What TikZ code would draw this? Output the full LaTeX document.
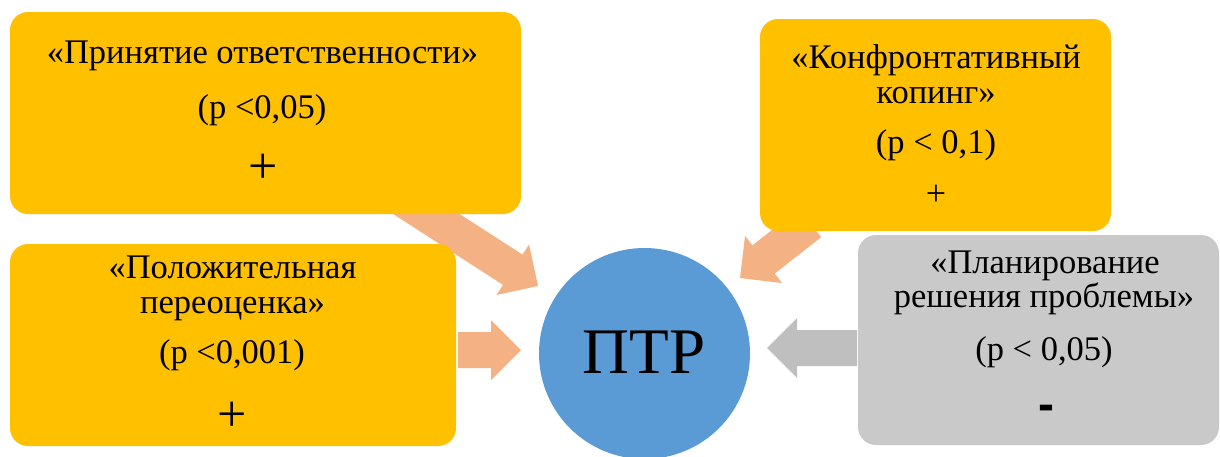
\documentclass[tikz,border=0pt]{standalone}
\usepackage{fontspec}
\setmainfont{Liberation Serif}
\newfontfamily\dashfont{Liberation Sans}
\usetikzlibrary{calc}
\definecolor{boxyellow}{HTML}{FFC000}
\definecolor{boxgray}{HTML}{C9C9C9}
\definecolor{arroworange}{HTML}{F4B183}
\definecolor{arrowgray}{HTML}{BFBFBF}
\definecolor{circleblue}{HTML}{5B9BD5}
% block arrow: colour, start coordinate, tip coordinate
\newcommand\blockarrow[3]{%
  \coordinate (bah) at ($(#3)!30pt!(#2)$);
  \fill[#1] ($(#2)!18pt!90:(#3)$) -- ($(bah)!18pt!-90:(#2)$) -- ($(bah)!30pt!-90:(#2)$)
    -- (#3) -- ($(bah)!30pt!90:(#2)$) -- ($(bah)!18pt!90:(#2)$) -- ($(#2)!18pt!-90:(#3)$) -- cycle;
}
\begin{document}
\begin{tikzpicture}[x=1pt,y=-1pt,
  box/.style={rectangle, draw=none, rounded corners=18pt, inner sep=0pt},
  txt/.style={anchor=base, inner sep=0pt, font=\fontsize{34.5}{34.5}\selectfont},
  plusbig/.style={anchor=center, inner sep=0pt, font=\fontsize{52}{52}\selectfont},
  plussmall/.style={anchor=center, inner sep=0pt, font=\fontsize{36}{36}\selectfont},
  minussign/.style={anchor=center, inner sep=0pt, font=\dashfont\bfseries\fontsize{48}{48}\selectfont},
]
\useasboundingbox (0,0) rectangle (1220,456);

% arrow end points
\coordinate (a1s) at (400,197);
\coordinate (a1t) at (538,286);
\coordinate (a2s) at (458,350);
\coordinate (a2t) at (521,350);
\coordinate (a3s) at (810,223);
\coordinate (a3t) at (740,278);
\coordinate (a4s) at (857,348);
\coordinate (a4t) at (767,348);

\blockarrow{arroworange}{a1s}{a1t}
\blockarrow{arroworange}{a2s}{a2t}
\blockarrow{arroworange}{a3s}{a3t}
\blockarrow{arrowgray}{a4s}{a4t}

% boxes
\node[box, fill=boxyellow, minimum width=511pt, minimum height=202pt] (b1) at (265.5,113) {};
\node[box, fill=boxyellow, minimum width=446pt, minimum height=202pt] (b2) at (233,345) {};
\node[box, fill=boxyellow, minimum width=351pt, minimum height=212pt] (b3) at (935.5,125) {};
\node[box, fill=boxgray, minimum width=361pt, minimum height=210pt] (b4) at (1038.5,340) {};
\node[circle, fill=circleblue, minimum size=211pt, inner sep=0pt] (c) at (644.5,353.5) {};

% texts
\node[txt] (t1a) at (262.5,63) {«Принятие ответственности»};
\node[txt] (t1b) at (262,118) {(p <0,05)};
\node[plusbig] (t1c) at (263,169) {+};

\node[txt] (t2a) at (232.5,278) {«Положительная};
\node[txt] (t2b) at (232.5,313) {переоценка»};
\node[txt] (t2c) at (232,363) {(p <0,001)};
\node[plusbig] (t2d) at (232,417) {+};

\node[txt] (t3a) at (936,68) {«Конфронтативный};
\node[txt] (t3b) at (936,103) {копинг»};
\node[txt] (t3c) at (936,153) {(p < 0,1)};
\node[plussmall] (t3d) at (936,195) {+};

\node[txt] (t4a) at (1045,273) {«Планирование};
\node[txt] (t4b) at (1044,307) {решения проблемы»};
\node[txt] (t4c) at (1044,360) {(p < 0,05)};
\node[minussign] (t4d) at (1046,413) {-};

\node[anchor=base, inner sep=0pt, font=\fontsize{65}{65}\selectfont] (ct) at (644,373) {ПТР};
\end{tikzpicture}
\end{document}
